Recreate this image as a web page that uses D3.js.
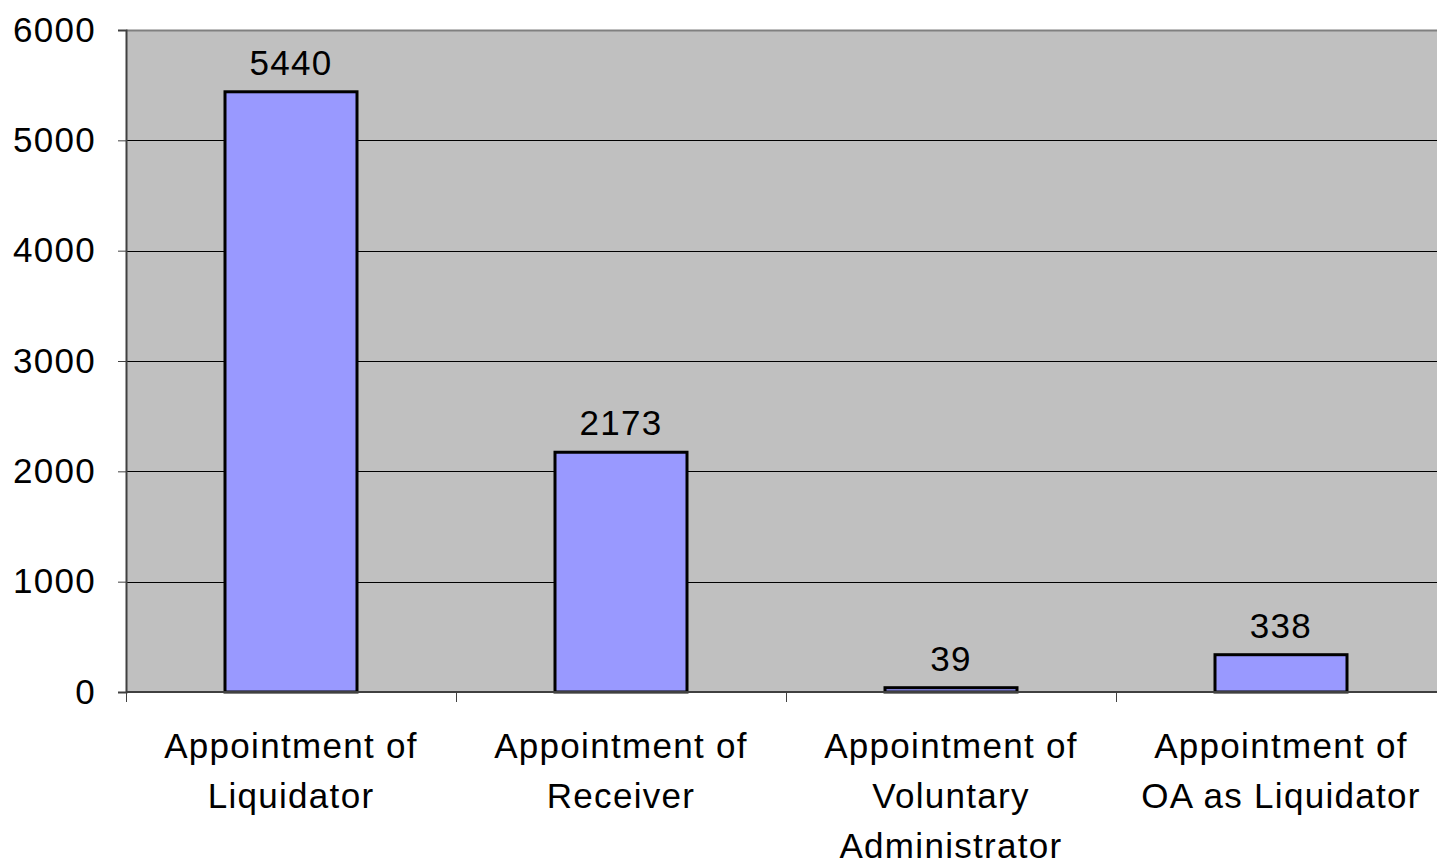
<!DOCTYPE html>
<html>
<head>
<meta charset="utf-8">
<script src="https://cdn.jsdelivr.net/npm/d3@7"></script>
<style>
  body { margin: 0; background: #fff; }
  svg { display: block; font-family: "Liberation Sans", Arial, sans-serif; }
</style>
</head>
<body>
<svg id="mysvg" width="1437" height="865"></svg>
<script>
// chart data
var categories = [
  ["Appointment of", "Liquidator"],
  ["Appointment of", "Receiver"],
  ["Appointment of", "Voluntary", "Administrator"],
  ["Appointment of", "OA as Liquidator"]
];
var values = [5440, 2173, 39, 338];
var yTicks = [0, 1000, 2000, 3000, 4000, 5000, 6000];

var svg = d3.select("#mysvg");
var plotLeft = 126, plotTop = 30, plotBottom = 692, plotRight = 1446;
var fontSize = 35, spacing = 1.3;

var x = d3.scaleBand()
    .domain(d3.range(values.length))
    .range([plotLeft, plotRight])
    .paddingInner(0.6)
    .paddingOuter(0.3);
var band = d3.scaleBand().domain(d3.range(values.length)).range([plotLeft, plotRight]);

var y = d3.scaleLinear().domain([0, 6000]).range([plotBottom, plotTop]);

// plot background
svg.append("rect")
    .attr("x", plotLeft).attr("y", plotTop)
    .attr("width", plotRight - plotLeft).attr("height", plotBottom - plotTop)
    .attr("fill", "#c0c0c0");

svg.append("line")
    .attr("x1", plotLeft).attr("x2", plotRight)
    .attr("y1", plotTop + 0.5).attr("y2", plotTop + 0.5)
    .attr("stroke", "#808080").attr("stroke-width", 2);

// gridlines
svg.append("g")
  .selectAll("line")
  .data(yTicks.filter(function(d) { return d > 0 && d < 6000; }))
  .enter().append("line")
    .attr("x1", plotLeft).attr("x2", plotRight)
    .attr("y1", function(d) { return Math.round(y(d)) + 0.5; })
    .attr("y2", function(d) { return Math.round(y(d)) + 0.5; })
    .attr("stroke", "#000").attr("stroke-width", 1);

// y axis
var yAxis = svg.append("g")
    .attr("transform", "translate(" + plotLeft + ",0)")
    .call(d3.axisLeft(y).tickValues(yTicks).tickSize(8).tickPadding(22).tickFormat(d3.format("d")));
yAxis.select(".domain").attr("stroke", "#404040").attr("stroke-width", 2);
yAxis.selectAll(".tick line").attr("stroke", "#404040");
yAxis.selectAll("text")
    .attr("font-size", fontSize)
    .attr("letter-spacing", spacing)
    .attr("fill", "#000")
    .attr("font-family", "Liberation Sans, Arial, sans-serif");

// bars
svg.append("g")
  .selectAll("rect")
  .data(values)
  .enter().append("rect")
    .attr("x", function(d, i) { return x(i); })
    .attr("y", function(d) { return y(d); })
    .attr("width", x.bandwidth())
    .attr("height", function(d) { return plotBottom - y(d); })
    .attr("fill", "#9999ff")
    .attr("stroke", "#000")
    .attr("stroke-width", 3);

// x axis line + ticks
svg.append("line")
    .attr("x1", plotLeft).attr("x2", plotRight)
    .attr("y1", plotBottom).attr("y2", plotBottom)
    .attr("stroke", "#404040").attr("stroke-width", 2);

svg.append("g")
  .selectAll("line")
  .data(d3.range(values.length + 1))
  .enter().append("line")
    .attr("x1", function(d) { return (d < values.length ? band(d) : plotRight) + 0.5; })
    .attr("x2", function(d) { return (d < values.length ? band(d) : plotRight) + 0.5; })
    .attr("y1", plotBottom).attr("y2", plotBottom + 10)
    .attr("stroke", "#404040");

// value labels
svg.append("g")
  .selectAll("text")
  .data(values)
  .enter().append("text")
    .attr("x", function(d, i) { return x(i) + x.bandwidth() / 2; })
    .attr("y", function(d) { return y(d) - 17; })
    .attr("text-anchor", "middle")
    .attr("font-size", fontSize)
    .attr("letter-spacing", spacing)
    .text(function(d) { return d; });

// category labels
var cat = svg.append("g")
  .selectAll("text")
  .data(categories)
  .enter().append("text")
    .attr("text-anchor", "middle")
    .attr("font-size", fontSize)
    .attr("letter-spacing", spacing);

cat.selectAll("tspan")
  .data(function(d, i) { return d.map(function(s) { return { s: s, i: i }; }); })
  .enter().append("tspan")
    .attr("x", function(d) { return x(d.i) + x.bandwidth() / 2; })
    .attr("y", function(d, j) { return 758 + j * 50; })
    .text(function(d) { return d.s; });
</script>
</body>
</html>
